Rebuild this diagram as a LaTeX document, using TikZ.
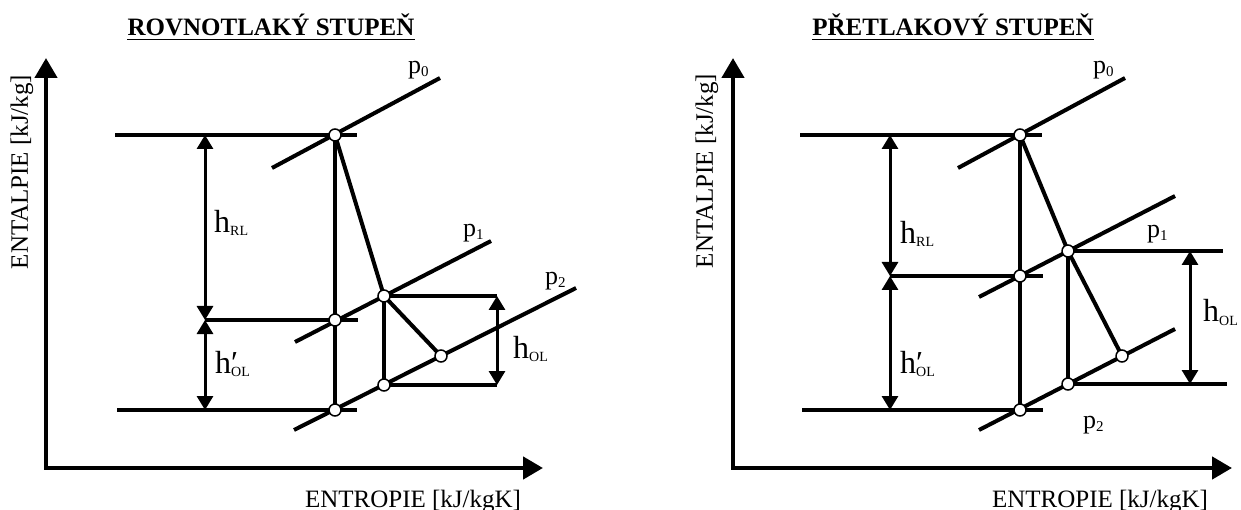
\documentclass[tikz,border=0pt]{standalone}
\usepackage{fontspec}
\setmainfont{Liberation Serif}
\usetikzlibrary{arrows.meta}
\newcommand\lsub[1]{\raisebox{-3pt}{\fontsize{14}{14}\selectfont #1}}
\newcommand\psub[1]{\raisebox{-3pt}{\fontsize{15}{15}\selectfont #1}}
\begin{document}
\begin{tikzpicture}[x=1pt,y=-1pt,
  ln/.style={line width=4pt},
  axis/.style={line width=4.5pt,line join=miter,{Triangle[length=20pt,width=22pt]}-{Triangle[length=20pt,width=22pt]}},
  dim/.style={line width=3pt,{Triangle[length=14pt,width=16pt]}-{Triangle[length=14pt,width=16pt]}},
  pt/.style={circle,draw,fill=white,line width=1.5pt,minimum size=12pt,inner sep=0pt},
  ttl/.style={font=\fontsize{25}{30}\selectfont\bfseries,inner sep=0pt,anchor=base},
  axlabel/.style={font=\fontsize{25}{30}\selectfont,inner sep=0pt},
  plabel/.style={font=\fontsize{26}{30}\selectfont,inner sep=0pt,anchor=base west},
  hlabel/.style={font=\fontsize{32}{36}\selectfont,inner sep=0pt,anchor=base west},
]
\useasboundingbox (0,0) rectangle (1241,510);

% ================= LEFT DIAGRAM =================
\node[ttl] (t1) at (271,36) {ROVNOTLAKÝ STUPEŇ};
\draw[line width=1.5pt] ([yshift=-3.5pt]t1.base west) -- ([yshift=-3.5pt]t1.base east);

\coordinate (LY) at (46,58);
\coordinate (LO) at (46,468);
\coordinate (LX) at (543,468);
\draw[axis] (LY) -- (LO) -- (LX);
\node[axlabel,rotate=90] (ly) at (22,172) {ENTALPIE [kJ/kg]};
\node[axlabel,anchor=base] (lx) at (413,507) {ENTROPIE [kJ/kgK]};

\coordinate (A) at (335,135);
\coordinate (M) at (335,320);
\coordinate (Bt) at (335,410);
\coordinate (B) at (384,296);
\coordinate (D) at (384,385);
\coordinate (C) at (441,356);
\coordinate (p0a) at (272,168); \coordinate (p0b) at (440,78);
\coordinate (p1a) at (295,342); \coordinate (p1b) at (491,241);
\coordinate (p2a) at (294,430); \coordinate (p2b) at (576,288);
\coordinate (h1a) at (115,135); \coordinate (h1b) at (357,135);
\coordinate (h2a) at (205,320); \coordinate (h2b) at (358,320);
\coordinate (h3a) at (117,410); \coordinate (h3b) at (357,410);
\coordinate (h4b) at (497,296);
\coordinate (h5b) at (497,385);

\draw[ln] (p0a) -- (p0b);
\draw[ln] (p1a) -- (p1b);
\draw[ln] (p2a) -- (p2b);
\draw[ln] (h1a) -- (h1b);
\draw[ln] (h2a) -- (h2b);
\draw[ln] (h3a) -- (h3b);
\draw[ln] (B) -- (h4b);
\draw[ln] (D) -- (h5b);
\draw[ln] (A) -- (Bt);
\draw[ln] (A) -- (B);
\draw[ln] (B) -- (D);
\draw[ln] (B) -- (C);
\coordinate (dT) at (205,135);
\draw[dim] (dT) -- (h2a);
\coordinate (dB) at (205,410);
\draw[dim] (h2a) -- (dB);
\draw[dim] (h4b) -- (h5b);

\node[pt] (cA) at (A) {};
\node[pt] (cM) at (M) {};
\node[pt] (cBt) at (Bt) {};
\node[pt] (cB) at (B) {};
\node[pt] (cD) at (D) {};
\node[pt] (cC) at (C) {};

\node[plabel] (lp0) at (408,74) {p\psub{0}};
\node[plabel] (lp1) at (463,237) {p\psub{1}};
\node[plabel] (lp2) at (545,285) {p\psub{2}};
\node[hlabel] (lhrl) at (214,233) {h\lsub{RL}};
\node[hlabel] (lhol2) at (215,373) {h\rlap{′}\lsub{OL}};
\node[hlabel] (lhol) at (513,358) {h\lsub{OL}};

% ================= RIGHT DIAGRAM =================
\node[ttl] (t2) at (953,36) {PŘETLAKOVÝ STUPEŇ};
\draw[line width=1.5pt] ([yshift=-3.5pt]t2.base west) -- ([yshift=-3.5pt]t2.base east);

\coordinate (RY) at (733,58);
\coordinate (RO) at (733,468);
\coordinate (RX) at (1232,468);
\draw[axis] (RY) -- (RO) -- (RX);
\node[axlabel,rotate=90] (ry) at (707,171) {ENTALPIE [kJ/kg]};
\node[axlabel,anchor=base] (rx) at (1100,507) {ENTROPIE [kJ/kgK]};

\coordinate (RA) at (1020,135);
\coordinate (RM) at (1020,276);
\coordinate (RBt) at (1020,410);
\coordinate (RB) at (1068,251);
\coordinate (RD) at (1068,384);
\coordinate (RC) at (1122,356);
\coordinate (q0a) at (958,168); \coordinate (q0b) at (1125,78);
\coordinate (q1a) at (979,297); \coordinate (q1b) at (1175,196);
\coordinate (q2a) at (979,430); \coordinate (q2b) at (1175,329);
\coordinate (g1a) at (800,135); \coordinate (g1b) at (1042,135);
\coordinate (g2a) at (890,276); \coordinate (g2b) at (1043,276);
\coordinate (g3a) at (802,410); \coordinate (g3b) at (1043,410);
\coordinate (g4b) at (1223,251);
\coordinate (g5b) at (1227,384);

\draw[ln] (q0a) -- (q0b);
\draw[ln] (q1a) -- (q1b);
\draw[ln] (q2a) -- (q2b);
\draw[ln] (g1a) -- (g1b);
\draw[ln] (g2a) -- (g2b);
\draw[ln] (g3a) -- (g3b);
\draw[ln] (RB) -- (g4b);
\draw[ln] (RD) -- (g5b);
\draw[ln] (RA) -- (RBt);
\draw[ln] (RA) -- (RB);
\draw[ln] (RB) -- (RD);
\draw[ln] (RB) -- (RC);
\coordinate (eT) at (890,135);
\draw[dim] (eT) -- (g2a);
\coordinate (eB) at (890,410);
\draw[dim] (g2a) -- (eB);
\coordinate (fT) at (1190,251);
\coordinate (fB) at (1190,384);
\draw[dim] (fT) -- (fB);

\node[pt] (cRA) at (RA) {};
\node[pt] (cRM) at (RM) {};
\node[pt] (cRBt) at (RBt) {};
\node[pt] (cRB) at (RB) {};
\node[pt] (cRD) at (RD) {};
\node[pt] (cRC) at (RC) {};

\node[plabel] (rp0) at (1093,74) {p\psub{0}};
\node[plabel] (rp1) at (1147,238) {p\psub{1}};
\node[plabel] (rp2) at (1083,428) {p\psub{2}};
\node[hlabel] (rhrl) at (900,244) {h\lsub{RL}};
\node[hlabel] (rhol2) at (900,373) {h\rlap{′}\lsub{OL}};
\node[hlabel] (rhol) at (1203,322) {h\lsub{OL}};
\end{tikzpicture}
\end{document}
